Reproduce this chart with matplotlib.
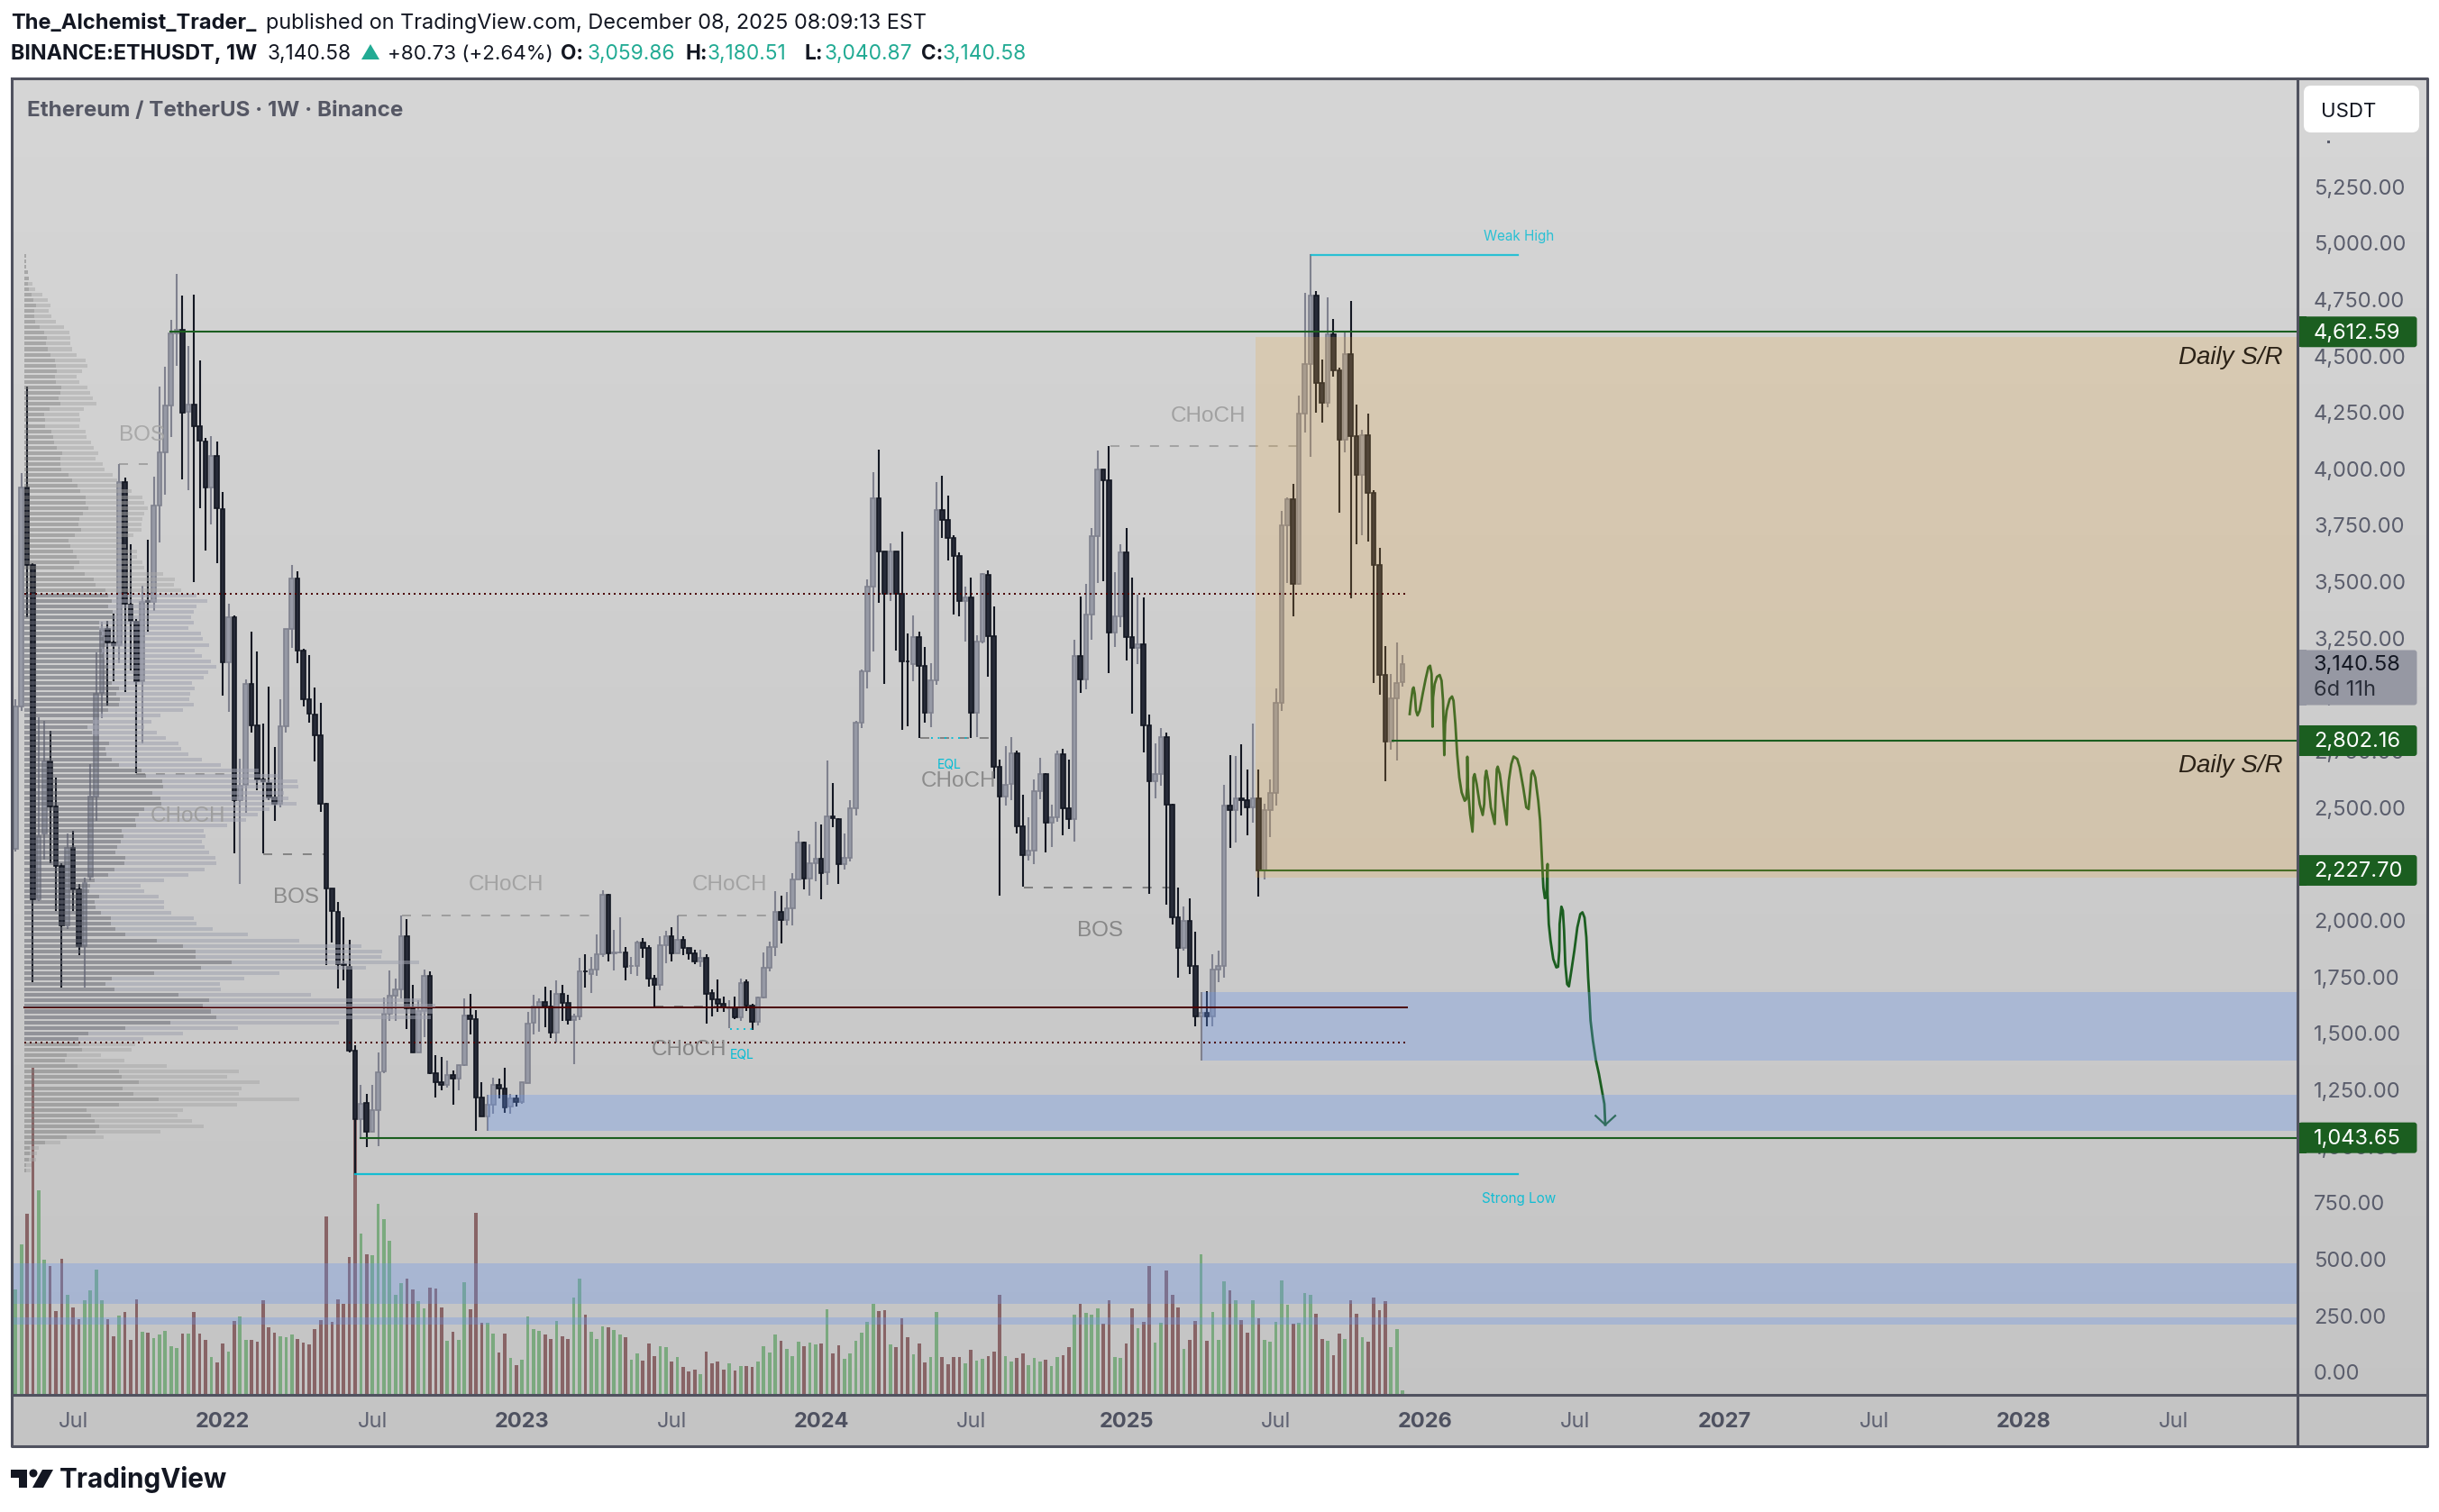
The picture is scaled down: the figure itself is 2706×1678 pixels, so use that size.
#!/usr/bin/env python3
"""ETHUSDT weekly chart, TradingView style, with sketched forecast path."""
import matplotlib
matplotlib.use('Agg')
import matplotlib.pyplot as plt
import numpy as np
from matplotlib.patches import FancyBboxPatch, Polygon, Rectangle, Circle
from matplotlib.transforms import blended_transform_factory, ScaledTranslation

W, H = 2706, 1678
plt.rcParams['font.family'] = ['Inter', 'Liberation Sans', 'DejaVu Sans']
plt.rcParams['lines.scale_dashes'] = False

opens = [2322,2952,3925,3581,2100,2391,2711,2510,2246,1983,
         2327,2143,1894,2201,2555,3013,3295,3238,3226,3948,
         3403,3329,3066,3421,3416,3845,4081,4287,4607,4623,
         4257,4291,4195,4126,3925,4062,3829,3151,3348,2539,
         2608,3055,2871,2631,2615,2551,2521,2865,3295,3520,
         3203,2986,2917,2826,2521,2146,2043,1813,1802,1431,
         1128,1197,1072,1167,1337,1593,1673,1700,1936,1616,
         1423,1606,1762,1331,1291,1276,1320,1304,1364,1586,
         1568,1221,1138,1191,1278,1260,1181,1217,1201,1287,
         1553,1626,1643,1626,1511,1680,1640,1564,1580,1782,
         1770,1790,1855,2118,1859,1863,1866,1803,1803,1908,
         1886,1750,1719,1895,1935,1859,1919,1886,1859,1826,
         1839,1683,1655,1636,1617,1620,1578,1733,1630,1556,
         1664,1795,1890,2042,2009,2058,2189,2350,2193,2261,
         2278,2219,2468,2454,2254,2285,2504,2880,3108,3483,
         3875,3642,3454,3642,3454,3155,3143,3259,3134,2927,
         3069,3822,3779,3701,3622,3419,3436,2927,3240,3535,
         3266,2685,2553,2610,2746,2421,2295,2314,2578,2656,
         2438,2464,2744,2504,2454,3179,3072,3359,3706,4003,
         3957,3279,3354,3635,3262,3212,3230,2870,2623,2656,
         2817,2518,2019,1886,2003,1806,1580,1596,1583,1790,
         1806,2514,2495,2546,2537,2508,2546,2227,2495,2571,
         2970,3754,3873,3495,4250,4470,4775,4388,4298,4602,
         4441,4136,4512,4149,3978,4153,3901,3581,3094,2800,
         2989,3060]
closes = [2952,3925,3581,2100,2379,2711,2510,2246,1983,2327,
          2143,1894,2173,2555,3009,3295,3238,3225,3948,3410,
          3334,3066,3416,3416,3845,4081,4287,4607,4623,4255,
          4291,4195,4131,3925,4062,3833,3151,3348,2539,2601,
          3055,2871,2631,2624,2551,2521,2865,3295,3520,3203,
          2986,2922,2826,2521,2146,2047,1813,1809,1430,1128,
          1194,1072,1167,1334,1593,1673,1700,1936,1616,1423,
          1606,1762,1330,1291,1276,1320,1304,1364,1586,1568,
          1221,1138,1191,1276,1260,1178,1217,1201,1290,1550,
          1626,1643,1624,1511,1680,1640,1564,1580,1779,1779,
          1790,1855,2118,1859,1866,1866,1799,1806,1908,1886,
          1750,1719,1895,1935,1859,1919,1886,1859,1823,1839,
          1682,1655,1636,1620,1620,1578,1730,1629,1556,1664,
          1795,1890,2042,2009,2058,2189,2351,2193,2261,2278,
          2217,2468,2457,2254,2283,2504,2880,3108,3483,3875,
          3642,3454,3642,3454,3152,3152,3259,3134,2927,3069,
          3822,3779,3701,3622,3419,3436,2927,3243,3540,3266,
          2685,2553,2606,2746,2421,2295,2314,2578,2656,2438,
          2464,2744,2504,2454,3179,3072,3359,3706,4003,3957,
          3279,3354,3635,3262,3212,3230,2870,2623,2656,2817,
          2518,2019,1886,2003,1806,1580,1596,1583,1790,1806,
          2514,2495,2546,2540,2508,2546,2227,2495,2569,2970,
          3754,3873,3495,4250,4470,4775,4388,4298,4602,4441,
          4136,4512,4149,3978,4153,3901,3581,3094,2800,2989,
          3056,3140]
highs = [2986,3987,4371,3590,2906,2890,2844,2638,2258,2391,
         2402,2166,2196,2700,3192,3329,3334,3364,4028,3966,
         3673,3341,3490,3691,3971,4371,4458,4665,4868,4772,
         4550,4777,4486,4142,4149,4126,3902,3410,3357,2723,
         3073,3284,3197,2878,3043,2775,2986,3295,3581,3554,
         3210,3181,3039,2968,2528,2146,2086,2020,1919,1453,
         1277,1237,1277,1420,1666,1783,1749,2028,2012,1720,
         1653,1789,1780,1410,1400,1384,1340,1367,1660,1680,
         1608,1290,1234,1310,1304,1354,1237,1234,1290,1600,
         1677,1660,1713,1695,1739,1719,1677,1593,1839,1855,
         1846,1943,2138,2122,1963,2019,1888,1843,1916,1928,
         1896,1766,1935,1959,1975,2028,1935,1886,1876,1875,
         1855,1699,1743,1669,1653,1669,1749,1743,1636,1669,
         1866,1912,2136,2116,2132,2215,2402,2354,2342,2442,
         2431,2713,2613,2457,2393,2538,2891,3119,3518,3992,
         4090,3642,3675,3642,3728,3276,3357,3283,3219,3145,
         3946,3974,3886,3711,3635,3483,3523,3269,3544,3558,
         3397,2720,2777,2817,2760,2561,2461,2631,2725,2659,
         2518,2759,2767,2720,3248,3440,3497,3744,4086,4003,
         4107,3547,3672,3744,3523,3450,3436,2917,2792,2856,
         2837,2521,2152,2068,2102,1956,1689,1693,1856,1872,
         2606,2737,2733,2785,2676,2876,2676,2523,2632,3033,
         3821,3878,3939,4331,4785,4955,4794,4489,4766,4670,
         4455,4617,4751,4289,4178,4250,3911,3657,3220,3096,
         3237,3181]
lows = [2310,2935,3348,1733,2093,2276,2260,2047,1708,1967,
        2047,1852,1708,2184,2448,2901,2956,3066,3146,3016,
        3112,2659,2791,3284,3375,3680,3890,4147,4463,3959,
        3913,3506,3833,3646,3758,3588,3002,2929,2304,2166,
        2482,2837,2581,2304,2539,2448,2505,2837,3215,3146,
        2952,2883,2711,2487,1807,1910,1704,1742,1420,884,
        1044,1001,1070,1008,1330,1560,1560,1660,1527,1423,
        1423,1491,1327,1221,1254,1265,1191,1254,1360,1503,
        1074,1137,1074,1150,1217,1154,1150,1181,1194,1287,
        1500,1513,1533,1487,1464,1560,1547,1370,1566,1709,
        1686,1762,1846,1826,1786,1859,1742,1769,1762,1842,
        1713,1622,1697,1816,1826,1859,1852,1832,1812,1802,
        1549,1580,1602,1602,1529,1569,1562,1606,1520,1540,
        1660,1779,1850,1906,1985,1985,2188,2143,2117,2179,
        2100,2164,2417,2169,2233,2268,2471,2856,3034,3198,
        3411,3055,3421,3201,2851,2867,3067,2816,2880,2863,
        3048,3701,3601,3362,3354,3240,2813,2820,3233,3086,
        2635,2114,2514,2538,2392,2154,2271,2254,2542,2307,
        2333,2442,2385,2411,2357,3015,3031,3250,3501,3508,
        3102,3219,3304,3159,2920,3141,2752,2124,2546,2603,
        2076,1989,1753,1872,1770,1537,1387,1537,1537,1733,
        1753,2327,2350,2470,2384,2437,2113,2189,2374,2514,
        2932,3500,3353,3491,4168,4060,4254,4210,4277,4413,
        3812,4079,3434,3672,3710,3682,3058,3004,2622,2762,
        2714,3041]
# volume bar heights, arbitrary units
volumes = [350,500,602,1090,680,450,428,278,452,332,
           290,251,314,347,416,314,251,194,263,275,
           182,317,209,206,188,200,212,161,155,203,
           203,275,203,182,125,107,170,143,245,260,
           182,182,176,314,224,206,194,191,200,185,
           173,167,218,248,593,242,317,302,458,920,
           536,467,464,635,584,512,332,371,386,350,
           311,287,356,353,290,179,209,182,374,284,
           605,239,239,203,140,203,122,98,116,260,
           218,212,200,185,245,194,185,323,386,266,
           209,185,227,224,215,200,191,116,137,113,
           170,128,161,158,110,125,92,77,83,68,
           143,104,110,83,104,80,95,95,92,110,
           161,140,200,179,152,128,176,161,173,167,
           170,284,137,164,119,137,179,206,242,302,
           278,281,167,158,254,191,134,170,107,125,
           275,125,101,125,125,104,149,113,119,128,
           143,332,128,110,122,137,98,122,110,116,
           95,125,131,158,266,302,272,266,287,236,
           314,125,122,170,287,221,242,428,173,239,
           413,332,290,152,182,245,467,179,275,182,
           377,347,314,248,206,314,254,182,176,242,
           380,299,236,239,338,332,269,185,179,131,
           203,185,314,269,191,176,323,281,311,158,
           218,14]

# visible range profile, top row first; bar ends as read, VP_ORIGIN is where the bars start
VP_ORIGIN = 51
vp_up_end = [57,56,56,63,66,64,67,75,81,90,84,84,87,102,117,126,123,129,138,153,
             156,159,153,156,174,171,165,171,135,117,120,120,141,147,150,159,177,171,171,174,
             198,210,228,237,255,255,264,246,234,231,240,219,198,204,213,225,234,216,252,282,
             288,321,330,342,330,345,345,300,300,310,315,320,310,315,318,325,330,330,342,366,
             357,369,366,330,300,280,261,276,300,333,322,324,342,366,441,456,510,513,477,504,
             507,450,432,420,423,375,381,372,360,354,387,384,351,330,285,270,267,300,285,288,
             306,339,339,354,387,492,579,621,621,741,639,483,342,321,351,564,666,645,672,690,
             537,387,264,231,234,243,192,186,228,366,375,432,378,414,498,366,258,273,285,300,
             288,192,120,70,70,66,56,56]
vp_total_end = [57,56,56,63,66,78,87,111,129,138,132,141,156,183,201,204,204,210,225,255,
                261,243,225,234,261,270,279,291,249,234,237,234,255,258,273,282,297,288,312,318,
                345,360,375,408,444,450,462,450,444,441,441,414,375,390,426,426,444,450,513,552,
                549,573,624,660,624,615,606,615,597,639,645,666,618,642,672,690,663,648,609,618,
                603,600,615,578,504,474,450,492,522,564,573,597,642,705,831,897,960,963,915,930,
                957,867,828,789,726,648,654,642,651,666,687,690,651,597,516,438,450,498,516,516,
                540,615,624,678,795,966,1173,1242,1239,1365,1188,900,783,702,705,1005,1370,1418,1410,1404,
                1098,762,579,447,420,408,306,384,525,765,726,834,774,765,966,759,579,561,609,648,
                504,315,171,99,93,89,75,72]
VP_TOP_PRICE, VP_BOTTOM_PRICE = 4948, 900

forecast_week = [242.24,242.45,242.76,242.92,243.13,243.34,243.6,243.97,244.49,245.01,245.48,245.79,246.05,246.21,
                 246.31,246.58,246.99,247.46,247.78,248.04,248.25,248.4,248.66,249.19,249.6,249.86,250.18,250.49,
                 250.86,251.27,251.8,252.06,252.21,252.26,252.37,252.73,253.15,253.26,253.31,253.52,253.88,254.41,
                 254.93,255.19,255.34,255.55,255.87,256.34,257.02,257.17,257.38,257.54,257.9,258.42,259.1,259.26,
                 259.47,259.89,260.3,260.93,261.35,261.97,262.5,262.91,263.17,263.38,263.64,264.06,264.58,264.9,
                 265.21,265.47,265.73,265.99,266.2,266.2,266.41,266.72,267.19,267.72,268.03,268.24,268.29,268.6,
                 268.86,269.07,269.28,269.6,269.91,270.33,270.85,271.37,271.89,272.26,272.62,272.94,273.25,273.46,
                 273.67,274.08,274.61,275.13,275.65,276.07,276.23]
forecast_price = [2920,2972,3031,3038,3008,2935,2914,2935,3008,3075,3127,3134,3097,2864,
                  2994,3053,3085,3093,3068,2979,2738,2876,2935,2986,2998,2979,2876,2743,
                  2639,2573,2536,2543,2595,2731,2595,2477,2399,2462,2639,2654,2610,2521,
                  2473,2521,2639,2669,2625,2507,2433,2551,2676,2687,2654,2551,2430,2551,
                  2625,2698,2732,2721,2684,2595,2507,2499,2580,2654,2669,2639,2536,2448,
                  2285,2152,2105,2108,2256,2123,1990,1916,1835,1798,1801,1872,1990,2067,
                  2049,1960,1813,1724,1714,1783,1872,1975,2034,2042,2019,1931,1754,1665,
                  1562,1473,1385,1325,1252,1193,1101]
arrow_week = [274.55,276.23,277.95]
arrow_price = [1141,1101,1141]

price_ticks = list(range(0, 5500, 250))
week_ticks = [10,36,62,88,114,140,166,193,219,245,271,297,323,349,375]
week_labels = ['Jul','2022','Jul','2023','Jul','2024','Jul','2025','Jul','2026','Jul','2027','Jul','2028','Jul']

# (label, week, price, grey level)
struct_labels = [('BOS',22.0,4154,0.66),('CHoCH',30.0,2467,0.62),('BOS',48.8,2107,0.54),
                 ('CHoCH',85.2,2163,0.64),('CHoCH',124.0,2163,0.64),('CHoCH',117.1,1433,0.52),
                 ('CHoCH',163.9,2622,0.55),('BOS',188.4,1960,0.53),('CHoCH',207.3,4239,0.63)]
# (start week, end week, price, grey level)
struct_dashes = [(18.0,23.0,4029,0.64),(21.0,37.7,2653,0.58),(43.0,53.7,2300,0.52),
                 (67.1,99.9,2028,0.62),(115.0,130.4,2028,0.62),(111.0,122.6,1626,0.50),
                 (157.2,169.1,2816,0.52),(175.2,200.6,2153,0.50),(190.2,222.8,4107,0.64)]

# pixel layout of the reference frame
PLOT_L, PLOT_R, PLOT_T, PLOT_B = 15, 2549, 87, 1548
FRAME_R, FRAME_B = 2693, 1605
PX_PER_WEEK = 6.385
X0_PX = 17.3
Y0_PX, PX_PER_USD = 1524.2, 0.2506

BORDER = '#50525f'
TEAL = '#22ab94'
TEXT = '#131722'
LINE_GREEN = '#1b5e20'
DARK_RED = '#4c0000'
CYAN = '#00bcd4'

fig = plt.figure(figsize=(W / 100, H / 100), dpi=100, facecolor='white')

# gradient panel behind everything
bg = fig.add_axes([0, 0, 1, 1], zorder=0)
bg.set_xlim(0, W); bg.set_ylim(H, 0); bg.axis('off')
grad = np.linspace(214, 196, 256)[:, None] / 255
bg.imshow(np.dstack([grad, grad, grad]), extent=(13, FRAME_R, FRAME_B, PLOT_T),
          aspect='auto', interpolation='bilinear', zorder=0)
bg.set_xlim(0, W); bg.set_ylim(H, 0)

ax = fig.add_axes([PLOT_L / W, 1 - PLOT_B / H, (PLOT_R - PLOT_L) / W, (PLOT_B - PLOT_T) / H], zorder=1)
ax.patch.set_alpha(0)
for s in ax.spines.values():
    s.set_visible(False)
ax.set_xlim((PLOT_L - X0_PX) / PX_PER_WEEK, (PLOT_R - X0_PX) / PX_PER_WEEK)
ax.set_ylim((Y0_PX - PLOT_B) / PX_PER_USD, (Y0_PX - PLOT_T) / PX_PER_USD)
x_end = ax.get_xlim()[1]
x_start = ax.get_xlim()[0]

o, h, l, c = map(np.array, (opens, highs, lows, closes))
weeks = np.arange(len(o))
up = c >= o

# volume, own scale: baseline on the axis bottom
vol_trans = blended_transform_factory(ax.transData, ax.transAxes)
vol_span = 3 * (PLOT_B - PLOT_T)
vols = np.array(volumes) / vol_span
ax.bar(weeks[up], vols[up], width=0.58, color='#6ea573', alpha=0.85, transform=vol_trans, zorder=1)
ax.bar(weeks[~up], vols[~up], width=0.58, color='#825a5c', alpha=0.9, transform=vol_trans, zorder=1)

for x1, x2, p, g in struct_dashes:
    ax.plot([x1, x2], [p, p], color=str(g), lw=1.44, ls=(0, (7.2, 8.6)), zorder=1.5)

# candles
ax.vlines(weeks[up], l[up], h[up], color='#7f818e', lw=1.5, zorder=2)
ax.bar(weeks[up], (c - o)[up], bottom=o[up], width=0.72, color='#9699a5', edgecolor='#7f818e', lw=1.2, zorder=2.1)
ax.vlines(weeks[~up], l[~up], h[~up], color='#131722', lw=1.5, zorder=2.2)
ax.bar(weeks[~up], (o - c)[~up], bottom=c[~up], width=0.72, color='#262a37', edgecolor='#131722', lw=1.2, zorder=2.3)

# hand drawn path and the lower box edge sit under the box tint
ax.plot(forecast_week, forecast_price, color=LINE_GREEN, lw=2.0, solid_joinstyle='round', zorder=2.5)
ax.plot(arrow_week, arrow_price, color=LINE_GREEN, lw=1.6, zorder=2.5)
ax.plot([216.2, x_end], [2227.7, 2227.7], color=LINE_GREEN, lw=1.5, zorder=2.5)

# zones
ax.add_patch(Rectangle((215.4, 2197), x_end - 215.4, 4588 - 2197, color=(237/255, 169/255, 59/255), alpha=0.21, lw=0, zorder=3))
blue = (100/255, 147/255, 240/255)
for x1, p1, p2 in [(206.2, 1387, 1689), (82.0, 1074, 1234), (x_start, 309, 489), (x_start, 216, 248)]:
    ax.add_patch(Rectangle((x1, p1), x_end - x1, p2 - p1, color=blue, alpha=0.3, lw=0, zorder=3))

# point of control below the profile
ax.plot([1.52, 241.8], [1622, 1622], color=DARK_RED, lw=1.44, zorder=3.5)

# volume profile
vp_up = (np.array(vp_up_end) - VP_ORIGIN) / (3 * PX_PER_WEEK)
vp_total = (np.array(vp_total_end) - VP_ORIGIN) / (3 * PX_PER_WEEK)
vp_price = np.linspace(VP_TOP_PRICE, VP_BOTTOM_PRICE, len(vp_up))
vp_left = 1.52
in_va = (vp_price < 3460) & (vp_price > 1460)
for mask, dark, light, a_d, a_l in [(in_va, '#646670', '#a0a2af', 0.55, 0.55),
                                    (~in_va, '#787878', '#a8a8a8', 0.48, 0.5)]:
    ax.barh(vp_price[mask], vp_up[mask], left=vp_left, height=16, color=dark, alpha=a_d, lw=0, zorder=4)
    ax.barh(vp_price[mask], (vp_total - vp_up)[mask], left=vp_left + vp_up[mask], height=16,
            color=light, alpha=a_l, lw=0, zorder=4)

# horizontal levels
for x1, p in [(26.9, 4612.59), (239.3, 2802.16), (59.9, 1043.65)]:
    ax.plot([x1, x_end], [p, p], color=LINE_GREEN, lw=1.5, zorder=5)
for p, x2 in [(3454, 241.5), (1465, 241.5)]:
    ax.plot([1.52, x2], [p, p], color=DARK_RED, lw=1.44, ls=(0, (1.44, 2.88)), zorder=5)
ax.plot([225.2, 261.0], [4953, 4953], color=CYAN, lw=1.6, alpha=0.8, zorder=5)
ax.plot([59.0, 261.0], [883, 883], color=CYAN, lw=1.6, alpha=0.9, zorder=5)
ax.plot([124.1, 128.1], [1527, 1527], color=CYAN, lw=1.3, ls=(0, (1.4, 4)), zorder=5)
ax.plot([159.1, 166.0], [2813, 2813], color=CYAN, lw=1.3, ls=(0, (1.4, 4)), zorder=5)

for txt, x, p, g in struct_labels:
    ax.text(x, p, txt, color=str(g), fontsize=17.5, family=['Liberation Sans'], ha='center', va='center', zorder=6)
ax.text(261.2, 5034, 'Weak High', color=CYAN, alpha=0.8, fontsize=11, ha='center', va='center', zorder=6)
ax.text(261.2, 772, 'Strong Low', color=CYAN, alpha=0.9, fontsize=11, ha='center', va='center', zorder=6)
ax.text(126.2, 1411, 'EQL', color=CYAN, fontsize=10, ha='center', va='center', zorder=6)
ax.text(162.2, 2696, 'EQL', color=CYAN, fontsize=10, ha='center', va='center', zorder=6)
for p in (4500, 2692):
    ax.text(394.0, p, 'Daily S/R', color='#2a2116', fontsize=20, family=['Liberation Sans'], style='italic',
            ha='right', va='center', zorder=6)

# axes
ax.yaxis.tick_right()
ax.set_yticks(price_ticks)
ax.set_yticklabels([f'{p:,.2f}' for p in price_ticks], color='#5a5d6c', fontsize=17)
ax.tick_params(axis='y', length=0, pad=13)
nudge = ScaledTranslation(0, 1.5 / 100, fig.dpi_scale_trans)
for t in ax.get_yticklabels():
    t.set_transform(t.get_transform() + nudge)
ax.set_xticks(week_ticks)
ax.set_xticklabels(week_labels, fontsize=17)
ax.tick_params(axis='x', length=0, pad=14)
for t, lab in zip(ax.get_xticklabels(), week_labels):
    if lab == 'Jul':
        t.set_color('#5f6272')
    else:
        t.set_color('#4e5160')
        t.set_fontweight('bold')

# chrome on top: frame, price tags, header, logo
top = fig.add_axes([0, 0, 1, 1], zorder=3)
top.set_xlim(0, W); top.set_ylim(H, 0); top.axis('off')


def price_px(p):
    return H - ax.transData.transform((0, p))[1]


top.plot([13, FRAME_R, FRAME_R, 13, 13], [PLOT_T, PLOT_T, FRAME_B, FRAME_B, PLOT_T], color=BORDER, lw=2.2)
top.plot([PLOT_R, PLOT_R], [PLOT_T, FRAME_B], color=BORDER, lw=2.2)
top.plot([13, FRAME_R], [PLOT_B, PLOT_B], color=BORDER, lw=2.2)

for p in (4612.59, 2802.16, 2227.70, 1043.65):
    y = price_px(p)
    top.add_patch(FancyBboxPatch((2553, y - 14.5), 126, 29, boxstyle='round,pad=2.5,rounding_size=3',
                                 fc=LINE_GREEN, ec='none'))
    top.add_patch(Rectangle((2550.5, y - 17), 8, 34, fc=LINE_GREEN, ec='none'))
    top.text(2567, y + 1.5, f'{p:,.2f}', color='white', fontsize=17, ha='left', va='center')
top.add_patch(FancyBboxPatch((2553, 724), 126, 56, boxstyle='round,pad=2.5,rounding_size=3', fc='#9698a3', ec='none'))
top.add_patch(Rectangle((2550.5, 721), 8, 62, fc='#9698a3', ec='none'))
top.text(2567, 738.5, '3,140.58', color='#131722', fontsize=17, ha='left', va='center')
top.text(2567, 766.5, '6d 11h', color='#2a2e39', fontsize=17, ha='left', va='center')
# the 5,500 tick is cut off by the currency box, only its comma shows
top.add_patch(Rectangle((2582, 156), 2.5, 3, fc='#5a5d6c', ec='none'))
top.add_patch(FancyBboxPatch((2560, 99), 120, 44, boxstyle='round,pad=4,rounding_size=8', fc='white', ec='none'))
top.text(2575, 124, 'USDT', color='#131722', fontsize=16, ha='left', va='center')

top.text(30, 122.5, 'Ethereum / TetherUS · 1W · Binance', color='#555764', fontsize=17.4, fontweight='bold', ha='left', va='center')

top.text(12, 26, 'The_Alchemist_Trader_', color=TEXT, fontsize=17, fontweight='bold', ha='left', va='center')
top.text(295, 26, 'published on TradingView.com, December 08, 2025 08:09:13 EST', color=TEXT, fontsize=16.9, ha='left', va='center')
top.text(12, 60, 'BINANCE:ETHUSDT, 1W', color=TEXT, fontsize=16.8, fontweight='bold', ha='left', va='center')
top.text(297, 60, '3,140.58', color=TEXT, fontsize=16.3, ha='left', va='center')
top.add_patch(Polygon([(401, 66), (421, 66), (411, 49)], fc=TEAL, ec='none'))
top.text(430, 60, '+80.73 (+2.64%)', color=TEXT, fontsize=16.1, ha='left', va='center')
for x_lab, lab, x_val, val in [(622, 'O:', 652, '3,059.86'), (760, 'H:', 785, '3,180.51'),
                               (893, 'L:', 915, '3,040.87'), (1022, 'C:', 1046, '3,140.58')]:
    top.text(x_lab, 60, lab, color=TEXT, fontsize=16.3, fontweight='bold', ha='left', va='center')
    top.text(x_val, 60, val, color=TEAL, fontsize=16.4, ha='left', va='center')

# logo mark
top.add_patch(Polygon([(12, 1631), (30, 1631), (30, 1651), (21, 1651), (21, 1640), (12, 1640)], fc=TEXT, ec='none'))
top.add_patch(Circle((37, 1635), 4.5, fc=TEXT, ec='none'))
top.add_patch(Polygon([(47, 1631), (59, 1631), (48, 1651), (36, 1651)], fc=TEXT, ec='none'))
top.text(66, 1642, 'TradingView', color=TEXT, fontsize=21.4, fontweight='bold', ha='left', va='center')

fig.savefig('out.png', dpi=100, facecolor='white')
